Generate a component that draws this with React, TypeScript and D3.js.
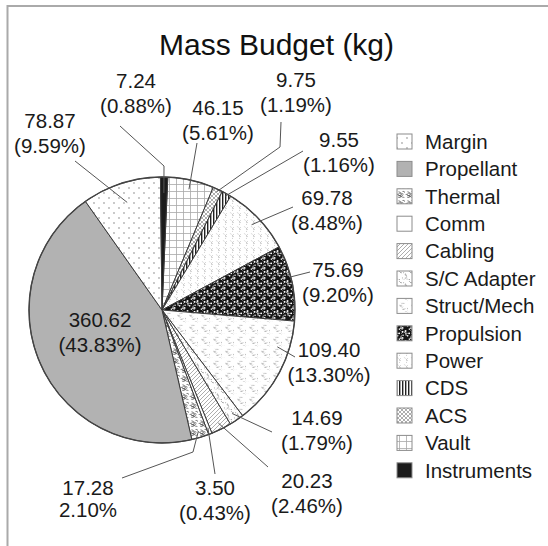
import React from 'react';
import * as d3 from 'd3';

// ---------- data ----------
const categories = ['Margin', 'Propellant', 'Thermal', 'Comm', 'Cabling', 'S/C Adapter', 'Struct/Mech', 'Propulsion', 'Power', 'CDS', 'ACS', 'Vault', 'Instruments'];
const massKg = [78.87, 360.62, 17.28, 3.5, 20.23, 14.69, 109.4, 75.69, 69.78, 9.55, 9.75, 46.15, 7.24];
const sliceOrder = ['Vault', 'ACS', 'CDS', 'Power', 'Propulsion', 'Struct/Mech', 'S/C Adapter', 'Cabling', 'Comm', 'Thermal', 'Propellant', 'Margin', 'Instruments'];
const chartTitle = 'Mass Budget (kg)';

// ---------- layout ----------
const W = 548, H = 546;
const CX = 162, CY = 310, R = 133;
const START = (2.5 * Math.PI) / 180;
const FONT = "'Liberation Sans', Arial, Helvetica, sans-serif";
const LINE = 24.5;

type Lab = { x: number; y: number; from?: [number, number]; via?: [number, number]; t?: number; r?: number; noParen?: boolean; gap?: number };
const labelLayout: Record<string, Lab> = {
  Vault: { x: 218, y: 115, from: [197, 143], t: 0.5, r: 0.93 },
  ACS: { x: 296, y: 87, from: [281, 122], via: [280, 147], t: 0.5, r: 0.98 },
  CDS: { x: 339, y: 147, from: [303, 151], t: 0.5, r: 0.98 },
  Power: { x: 327, y: 205, from: [293, 207], t: 0.5, r: 0.93 },
  Propulsion: { x: 338, y: 277, from: [310, 272], t: 0.42, r: 0.99 },
  'Struct/Mech': { x: 329, y: 357, from: [295, 357], t: 0.27, r: 0.91 },
  'S/C Adapter': { x: 317, y: 425, from: [272, 432], t: 0.5, r: 0.94 },
  Cabling: { x: 307, y: 488, from: [268, 467], t: 0.5, r: 0.95 },
  Comm: { x: 215, y: 495, from: [215, 474], t: 0.5, r: 0.95 },
  Thermal: { x: 88, y: 495, from: [122, 478], via: [193, 452], t: 0.5, r: 0.95, noParen: true, gap: 22 },
  Propellant: { x: 100, y: 327 },
  Margin: { x: 50, y: 128, from: [75, 161], t: 0.5, r: 0.85 },
  Instruments: { x: 136, y: 88, from: [120, 126], via: [164, 166], t: 0.5, r: 0.88 },
};

const fills: Record<string, string> = {
  Margin: 'url(#p-margin)',
  Propellant: '#b2b2b2',
  Thermal: 'url(#p-thermal)',
  Comm: '#ffffff',
  Cabling: 'url(#p-cabling)',
  'S/C Adapter': 'url(#p-sc)',
  'Struct/Mech': 'url(#p-struct)',
  Propulsion: 'url(#p-prop)',
  Power: 'url(#p-power)',
  CDS: 'url(#p-cds)',
  ACS: 'url(#p-acs)',
  Vault: 'url(#p-vault)',
  Instruments: '#1c1c1c',
};

// deterministic texture speck positions
function specks(n: number, w: number, h: number, seed: number) {
  let s = seed;
  const next = () => {
    s = (s * 16807) % 2147483647;
    return s / 2147483647;
  };
  const out: { x: number; y: number; a: number }[] = [];
  for (let i = 0; i < n; i++) out.push({ x: next() * w, y: next() * h, a: next() });
  return out;
}

function Patterns() {
  const propSp = specks(26, 10, 10, 12345);
  const scSp = specks(18, 10, 10, 777);
  const stSp = specks(16, 12, 12, 4242);
  const pwSp = specks(8, 7, 7, 999);
  const thSp = specks(9, 9, 9, 31337);
  return (
    <defs>
      <pattern id="p-margin" width="10" height="10" patternUnits="userSpaceOnUse">
        <rect width="10" height="10" fill="#fff" />
        <circle cx="2" cy="3" r="0.65" fill="#666" />
        <circle cx="7" cy="8" r="0.65" fill="#666" />
      </pattern>
      <pattern id="p-thermal" width="9" height="9" patternUnits="userSpaceOnUse">
        <rect width="9" height="9" fill="#fff" />
        {thSp.map((p, i) => (
          <path key={i} d={`M${p.x},${p.y} q${1.5 - p.a * 3},${-1.5} ${2.2},${p.a * 2 - 1} t${1.5},${1.2 - p.a}`} fill="none" stroke="#555" strokeWidth="0.7" />
        ))}
      </pattern>
      <pattern id="p-cabling" width="4" height="4" patternUnits="userSpaceOnUse">
        <rect width="4" height="4" fill="#fff" />
        <path d="M-1,1 L1,-1 M0,4 L4,0 M3,5 L5,3" stroke="#8a8a8a" strokeWidth="0.7" />
      </pattern>
      <pattern id="p-sc" width="10" height="10" patternUnits="userSpaceOnUse">
        <rect width="10" height="10" fill="#fff" />
        {scSp.map((p, i) => (
          <rect key={i} x={p.x} y={p.y} width="0.9" height="0.9" fill="#9a9a9a" />
        ))}
      </pattern>
      <pattern id="p-struct" width="12" height="12" patternUnits="userSpaceOnUse">
        <rect width="12" height="12" fill="#fff" />
        {stSp.map((p, i) => (
          <path key={i} d={`M${p.x},${p.y} l0.8,1 l0.8,-1`} fill="none" stroke="#a6a6a6" strokeWidth="0.55" />
        ))}
      </pattern>
      <pattern id="p-prop" width="10" height="10" patternUnits="userSpaceOnUse">
        <rect width="10" height="10" fill="#151515" />
        {propSp.map((p, i) => (
          <circle key={i} cx={p.x} cy={p.y} r={0.4 + p.a * 0.45} fill="#fff" />
        ))}
      </pattern>
      <pattern id="p-power" width="7" height="7" patternUnits="userSpaceOnUse">
        <rect width="7" height="7" fill="#fff" />
        {pwSp.map((p, i) => (
          <circle key={i} cx={p.x} cy={p.y} r="0.45" fill="#a0a0a0" />
        ))}
      </pattern>
      <pattern id="p-cds" width="3" height="3" patternUnits="userSpaceOnUse">
        <rect width="3" height="3" fill="#fff" />
        <rect width="1.4" height="3" fill="#222" />
      </pattern>
      <pattern id="p-acs" width="4" height="4" patternUnits="userSpaceOnUse">
        <rect width="4" height="4" fill="#fff" />
        <path d="M0,0 L4,4 M4,0 L0,4" stroke="#777" strokeWidth="0.6" />
      </pattern>
      <pattern id="p-vault" width="7" height="7" patternUnits="userSpaceOnUse">
        <rect width="7" height="7" fill="#fff" />
        <path d="M0,0.5 H7 M0.5,0 V7" stroke="#a8a8a8" strokeWidth="0.8" />
      </pattern>
    </defs>
  );
}

export default function App() {
  const valueOf = new Map(categories.map((c, i) => [c, massKg[i]]));
  const total = d3.sum(massKg);
  const pie = d3
    .pie<string>()
    .sort(null)
    .value((n) => valueOf.get(n) as number)
    .startAngle(START)
    .endAngle(START + 2 * Math.PI);
  const arcs = pie(sliceOrder);
  const arcGen = d3.arc<d3.PieArcDatum<string>>().innerRadius(0).outerRadius(R);
  const fmtV = d3.format('.2f');
  const fmtP = d3.format('.2%');
  const legendY = d3.scalePoint<string>().domain(categories).range([141.5, 470.3]);
  const pt = (a: number, r: number): [number, number] => [CX + r * Math.sin(a), CY - r * Math.cos(a)];

  return (
    <svg width={W} height={H} style={{ position: 'absolute', left: 0, top: 0, background: '#fff' }} fontFamily={FONT}>
      <Patterns />
      <rect x={0} y={0} width={W} height={H} fill="#fff" />
      <rect x={7.5} y={6} width={W + 20} height={H + 20} fill="none" stroke="#aaa" strokeWidth={2} />
      <text x={276.5} y={55} textAnchor="middle" fontSize={30} fill="#111">
        {chartTitle}
      </text>

      <g transform={`translate(${CX},${CY})`}>
        {arcs.map((a) => (
          <path key={a.data} d={arcGen(a) as string} fill={fills[a.data]} stroke="#3a3a3a" strokeWidth={1} />
        ))}
        <circle r={R} fill="none" stroke="#444" strokeWidth={1.4} />
      </g>

      {/* leader lines */}
      {arcs.map((a) => {
        const L = labelLayout[a.data];
        if (!L || !L.from) return null;
        const ang = a.startAngle + (L.t ?? 0.5) * (a.endAngle - a.startAngle);
        const end = pt(ang, (L.r ?? 0.9) * R);
        const pts = [L.from, ...(L.via ? [L.via] : []), end];
        return <polyline key={'l' + a.data} points={pts.map((p) => p.join(',')).join(' ')} fill="none" stroke="#555" strokeWidth={1} />;
      })}

      {/* labels */}
      {arcs.map((a) => {
        const L = labelLayout[a.data];
        const v = valueOf.get(a.data) as number;
        const p = fmtP(v / total);
        return (
          <text key={'t' + a.data} x={L.x} y={L.y} textAnchor="middle" fontSize={20.5} fill="#1a1a1a">
            <tspan x={L.x}>{fmtV(v)}</tspan>
            <tspan x={L.x} dy={L.gap ?? LINE}>
              {L.noParen ? p : `(${p})`}
            </tspan>
          </text>
        );
      })}

      {/* legend */}
      {categories.map((c) => {
        const y = legendY(c) as number;
        return (
          <g key={'g' + c}>
            <rect x={397} y={y - 7.5} width={15} height={15} fill={fills[c]} stroke="#8c8c8c" strokeWidth={1} />
            <text x={425} y={y + 7.3} fontSize={20.5} fill="#1a1a1a">
              {c}
            </text>
          </g>
        );
      })}
    </svg>
  );
}
